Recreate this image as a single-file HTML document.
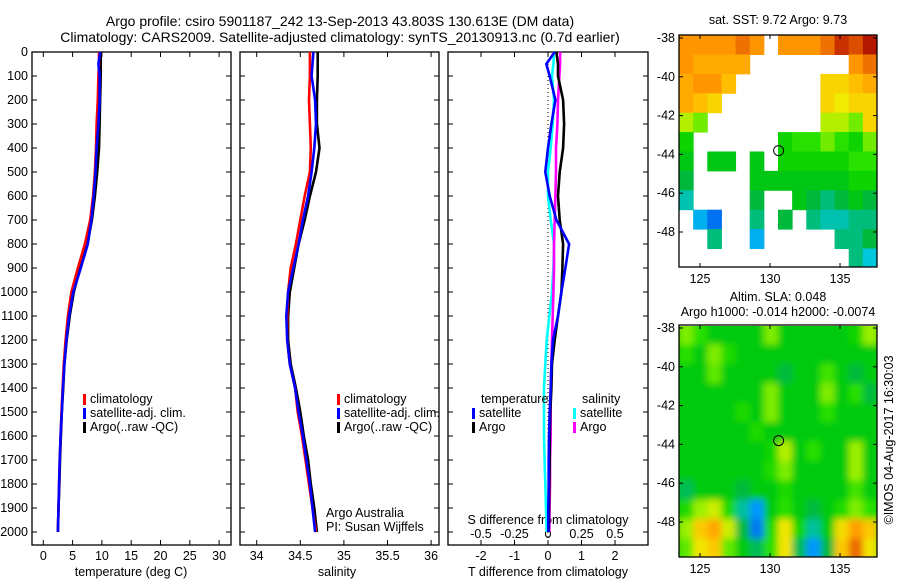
<!DOCTYPE html>
<html><head><meta charset="utf-8"><style>
html,body{margin:0;padding:0;background:#fff;}
svg{display:block;font-family:"Liberation Sans",sans-serif;font-size:12.5px;}
</style></head><body>
<svg id="fig" width="900" height="580" viewBox="0 0 900 580" xmlns="http://www.w3.org/2000/svg">
<defs>
<clipPath id="clip1"><rect x="679" y="35" width="198" height="232"/></clipPath>
<clipPath id="clip2"><rect x="679" y="326" width="198" height="231"/></clipPath>
<filter id="blur" x="-5%" y="-5%" width="110%" height="110%"><feGaussianBlur stdDeviation="3.5" edgeMode="duplicate"/></filter>
</defs>
<text x="340" y="26" text-anchor="middle" style="font-size:14px">Argo profile: csiro 5901187_242 13-Sep-2013 43.803S 130.613E (DM data)</text>
<text x="340" y="42" text-anchor="middle" style="font-size:14px">Climatology: CARS2009. Satellite-adjusted climatology: synTS_20130913.nc (0.7d earlier)</text>
<g id="p1"></g>
<g id="p2"></g>
<g id="p3"></g>
<g id="m1"></g>
<g id="m2"></g>
<text x="0" y="0" transform="translate(893,440) rotate(-90)" text-anchor="middle">©IMOS 04-Aug-2017 16:30:03</text>
</svg>
<script>
// ---------- data ----------
const depths = [0,50,100,200,300,400,500,600,700,800,900,1000,1100,1200,1300,1400,1500,1600,1700,1800,1900,2000];
const tempClim = [9.5,9.5,9.4,9.3,9.1,9.0,8.8,8.5,8.0,7.1,5.9,4.8,4.2,3.8,3.5,3.3,3.1,2.95,2.8,2.7,2.6,2.5];
const tempSat  = [9.7,9.4,9.6,9.6,9.4,9.1,8.9,8.6,8.2,7.6,6.4,5.1,4.4,3.95,3.6,3.35,3.15,2.95,2.8,2.7,2.6,2.5];
const tempArgo = [9.8,9.8,9.8,9.7,9.6,9.5,9.2,8.8,8.3,7.5,6.3,5.2,4.5,4.0,3.6,3.4,3.15,3.0,2.85,2.75,2.6,2.5];
const salClim = [34.61,34.61,34.61,34.60,34.61,34.62,34.61,34.55,34.50,34.45,34.39,34.36,34.35,34.35,34.38,34.44,34.47,34.52,34.56,34.60,34.64,34.68];
const salSat  = [34.65,34.64,34.63,34.67,34.68,34.66,34.63,34.59,34.53,34.48,34.42,34.36,34.34,34.35,34.38,34.44,34.48,34.53,34.57,34.61,34.64,34.67];
const salArgo = [34.70,34.70,34.70,34.69,34.69,34.72,34.68,34.61,34.55,34.48,34.43,34.38,34.36,34.36,34.39,34.45,34.50,34.54,34.59,34.62,34.66,34.69];
const tDiffSat  = [0.2,-0.05,0.05,0.22,0.1,0.0,-0.08,0.05,0.25,0.63,0.52,0.4,0.3,0.15,0.1,0.08,0.05,0.03,0.02,0.02,0.01,0.01];
const tDiffArgo = [0.25,0.3,0.3,0.45,0.48,0.45,0.35,0.3,0.35,0.45,0.43,0.4,0.3,0.2,0.12,0.1,0.07,0.05,0.05,0.04,0.03,0.02];
const sDiffSat  = [0.045,0.04,0.03,0.045,0.035,0.02,0.0,0.0,0.02,0.045,0.04,0.03,0.01,-0.01,-0.02,-0.03,-0.03,-0.03,-0.025,-0.02,-0.015,-0.01];
const sDiffArgo = [0.09,0.09,0.085,0.075,0.07,0.06,0.06,0.055,0.05,0.045,0.045,0.04,0.035,0.03,0.025,0.02,0.02,0.02,0.015,0.015,0.012,0.01];
const depthTicks = [0,100,200,300,400,500,600,700,800,900,1000,1100,1200,1300,1400,1500,1600,1700,1800,1900,2000];
const tempTicks = [0,5,10,15,20,25,30];
const salTicks = ["34","34.5","35","35.5","36"];
const tDiffTicks = [-2,-1,0,1,2];
const sDiffTicks = ["-0.5","-0.25","0","0.25","0.5"];
// SST grid rows lat -38..-50 (1 deg), cols lon 123.5.. (14 cols); -1 = no data
const sstGrid = [
[14,14,14,14,14.5,14,-1,14,14,14,14.5,15.5,15,16],
[14,13.5,13.5,13.5,13.5,-1,-1,-1,-1,-1,-1,-1,14,14.5],
[13.5,14,14,13,-1,-1,-1,-1,-1,-1,12.5,12.5,13,13.5],
[13.5,13,12.5,-1,-1,-1,-1,-1,-1,-1,12.5,12,12.5,12.5],
[11.5,11,-1,-1,-1,-1,-1,-1,-1,-1,11.5,11.5,11,12.5],
[10,-1,-1,-1,-1,-1,-1,10,10.5,10.5,11,10.5,10,11],
[9.5,-1,9.5,9.5,-1,9.5,-1,10,10,10,10,10,10.5,10.5],
[9,-1,-1,-1,-1,9.5,9.5,9.5,9.5,9.5,9.5,9.5,10,10],
[8,-1,-1,-1,-1,9,-1,-1,9.5,9,8.5,9,9.5,9],
[-1,7,6,-1,-1,8.5,-1,9,-1,8.5,8,8,8.5,8.5],
[-1,-1,8.5,-1,-1,7,-1,-1,-1,-1,-1,8.5,8.5,9],
[-1,-1,-1,-1,-1,-1,-1,-1,-1,-1,-1,-1,8.5,7.5]];
const slaGrid = [
[0.07,0.04,0,0,0,0,0.07,0,0,0,0,0,0.02,0.08],
[0.04,0,0.07,0.03,0,0,0,0,0,0,0,0,0,0],
[0,0,0.06,0,0,0,0,-0.03,0,0,0.05,0,-0.03,0],
[0,0,0,0,0,0,0.07,0,0,0,0.07,0,0.04,-0.03],
[0,0,0,0,0.03,0,0.07,0,0,0,0.04,0,0,0],
[0,0,0,0,0,0.03,0,0,0,0,0,0,0,0],
[0,0,0,0,0,0,0.02,0.09,0,0.04,0,0,0.08,0],
[0,0,0,0,0,0,0.03,0.07,0,0,0,0,0.08,0],
[-0.04,0,0,0,-0.03,0,0,0.03,0,0,0,0,0.05,0],
[0.03,0.08,0.1,0.03,-0.07,-0.15,0,0.04,0,-0.03,0,0.03,0.07,0.04],
[0.08,0.15,0.19,0.1,-0.03,-0.17,0.03,0.12,0.02,-0.07,0,0.13,0.2,0.15],
[0.06,0.12,0.15,0.06,0,-0.04,0.04,0.12,-0.04,-0.15,-0.03,0.15,0.24,0.12]];
const latTicks = [-38,-40,-42,-44,-46,-48];
const lonTicks = [125,130,135];
const argoLon = 130.613, argoLat = -43.803;

// ---------- helpers ----------
const NS="http://www.w3.org/2000/svg";
function mk(parent,tag,attrs,txt){const e=document.createElementNS(NS,tag);for(const k in attrs)e.setAttribute(k,attrs[k]);if(txt!==undefined)e.textContent=txt;parent.appendChild(e);return e;}
const yD = d => 52 + d*0.24;
const PT=52, PB=545;

function panel(g,x0,x1){
  const r=mk(g,'rect',{x:x0,y:PT,width:x1-x0,height:PB-PT,fill:'none',stroke:'#000','stroke-width':1.3});
  
  
  depthTicks.forEach(d=>{
    mk(g,'line',{x1:x0,x2:x0+5,y1:yD(d),y2:yD(d),stroke:'#000'});
    mk(g,'line',{x1:x1-5,x2:x1,y1:yD(d),y2:yD(d),stroke:'#000'});
  });
}
function xticks(g,xs,labels,y,top){
  xs.forEach((x,i)=>{
    mk(g,'line',{x1:x,x2:x,y1:PB,y2:PB-5,stroke:'#000'});
    if(top) mk(g,'line',{x1:x,x2:x,y1:PT,y2:PT+5,stroke:'#000'});
    const t=mk(g,'text',{x:x,y:y,'text-anchor':'middle'},labels[i]);
    
    
  });
}
function line(g,xf,vals,color,name){
  const pts=vals.map((v,i)=>xf(v).toFixed(1)+','+yD(depths[i]).toFixed(1)).join(' ');
  const p=mk(g,'polyline',{points:pts,fill:'none',stroke:color,'stroke-width':2.6});
  
  
}
function legend(g,x,y,items){
  items.forEach((it,i)=>{
    mk(g,'rect',{x:x,y:y+i*14-9,width:3,height:11,fill:it[0]});
    const t=mk(g,'text',{x:x+7,y:y+i*14},it[1]);
    
    
  });
}

// ---------- panel 1 ----------
const p1=document.getElementById('p1');
const xT = v => 43.3 + v*5.86;
panel(p1,32,231);
depthTicks.forEach(d=>{const t=mk(p1,'text',{x:28,y:yD(d)+4,'text-anchor':'end'},d);
  
  });
xticks(p1,tempTicks.map(xT),tempTicks,560,true);
mk(p1,'text',{x:131,y:576,'text-anchor':'middle'},'temperature (deg C)');
line(p1,xT,tempArgo,'#000','argo-temperature-line');
line(p1,xT,tempClim,'#f00','climatology-temperature-line');
line(p1,xT,tempSat,'#00f','satellite-temperature-line');
legend(p1,83,403,[['#f00','climatology'],['#00f','satellite-adj. clim.'],['#000','Argo(..raw -QC)']]);

// ---------- panel 2 ----------
const p2=document.getElementById('p2');
const xS = v => 256.7 + (v-34)*87.2;
panel(p2,240,439);
xticks(p2,salTicks.map(s=>xS(parseFloat(s))),salTicks,560,true);
mk(p2,'text',{x:337,y:576,'text-anchor':'middle'},'salinity');
line(p2,xS,salArgo,'#000','argo-salinity-line');
line(p2,xS,salClim,'#f00','climatology-salinity-line');
line(p2,xS,salSat,'#00f','satellite-salinity-line');
legend(p2,337,403,[['#f00','climatology'],['#00f','satellite-adj. clim.'],['#000','Argo(..raw -QC)']]);
mk(p2,'text',{x:326,y:517},'Argo Australia');
mk(p2,'text',{x:326,y:531},'PI: Susan Wijffels');

// ---------- panel 3 ----------
const p3=document.getElementById('p3');
const xTd = v => 548 + v*33.5;
const xSd = v => 548 + v*134;
panel(p3,448,648);
xticks(p3,tDiffTicks.map(xTd),tDiffTicks,560,true);
sDiffTicks.forEach(s=>{const t=mk(p3,'text',{x:xSd(parseFloat(s)),y:538,'text-anchor':'middle'},s);
  
  });
mk(p3,'text',{x:548,y:524,'text-anchor':'middle'},'S difference from climatology');
mk(p3,'text',{x:548,y:576,'text-anchor':'middle'},'T difference from climatology');
mk(p3,'line',{x1:xTd(0),x2:xTd(0),y1:PT,y2:PB,stroke:'#000','stroke-dasharray':'1,3'});
line(p3,xSd,sDiffSat,'#0ff','salinity-satellite-diff-line');
line(p3,xSd,sDiffArgo,'#f0f','salinity-argo-diff-line');
line(p3,xTd,tDiffArgo,'#000','temperature-argo-diff-line');
line(p3,xTd,tDiffSat,'#00f','temperature-satellite-diff-line');
mk(p3,'text',{x:481,y:403},'temperature');
mk(p3,'text',{x:582,y:403},'salinity');
legend(p3,472,417,[['#00f','satellite'],['#000','Argo']]);
legend(p3,573,417,[['#0ff','satellite'],['#f0f','Argo']]);

// ---------- maps ----------
const stops=[[0,[0,0,160]],[0.1,[0,60,220]],[0.2,[0,150,255]],[0.28,[0,200,220]],[0.35,[0,190,140]],[0.4,[0,185,60]],[0.46,[0,205,0]],[0.52,[40,225,0]],[0.58,[150,240,0]],[0.64,[240,235,0]],[0.72,[255,190,0]],[0.8,[255,150,0]],[0.9,[210,60,0]],[1,[160,0,0]]];
function cmap(t){t=Math.max(0,Math.min(1,t));for(let i=1;i<stops.length;i++){if(t<=stops[i][0]){const a=stops[i-1],b=stops[i],f=(t-a[0])/(b[0]-a[0]);const c=a[1].map((v,k)=>Math.round(v+(b[1][k]-v)*f));return 'rgb('+c.join(',')+')';}}return 'rgb(160,0,0)';}
function map(g,top,bottom,grid,vmin,vmax,clip,blur,titles){
  const L=679,R=877;
  const lon0=123.5,lon1=137.64;
  const xL=lon=>L+(lon-lon0)*(R-L)/(lon1-lon0);
  const yL=lat=>(top+3)+(-38-lat)*19.4;
  const cg=mk(g,'g',{'clip-path':'url(#'+clip+')'});
  const inner=mk(cg,'g',blur?{filter:'url(#blur)'}:{});
  if(blur) mk(inner,'rect',{x:L-10,y:top-10,width:R-L+20,height:bottom-top+20,fill:cmap((0-vmin)/(vmax-vmin))});
  const cw=(lon1-lon0)/14;
  grid.forEach((row,r)=>row.forEach((v,c)=>{
    if(v===-1)return;
    const x=xL(lon0+c*cw), y=yL(-38+0.15-r)-(r===0?5:0);
    const cell=mk(inner,'rect',{x:x,y:y,width:xL(lon0+(c+1)*cw)-x+0.5,height:19.4+(r===0?5.5:0.5)+(r===grid.length-1?10:0),fill:cmap((v-vmin)/(vmax-vmin))});
    
    
  }));
  const f=mk(g,'rect',{x:L,y:top,width:R-L,height:bottom-top,fill:'none',stroke:'#000','stroke-width':1.3});
  
  
  latTicks.forEach(lat=>{const y=yL(lat);
    mk(g,'line',{x1:L,x2:L+4,y1:y,y2:y,stroke:'#000'});mk(g,'line',{x1:R-4,x2:R,y1:y,y2:y,stroke:'#000'});
    const t=mk(g,'text',{x:675,y:y+4,'text-anchor':'end'},lat);
    
    });
  lonTicks.forEach(lon=>{const x=xL(lon);
    mk(g,'line',{x1:x,x2:x,y1:top,y2:top+4,stroke:'#000'});mk(g,'line',{x1:x,x2:x,y1:bottom-4,y2:bottom,stroke:'#000'});
    const t=mk(g,'text',{x:x,y:bottom+16,'text-anchor':'middle'},lon);
    
    });
  const m=mk(g,'circle',{cx:xL(argoLon),cy:yL(argoLat),r:5,fill:'none',stroke:'#000','stroke-width':1});
  
  
  titles.forEach((tt,i)=>{const t=mk(g,'text',{x:778,y:tt[1],'text-anchor':'middle'},tt[0]);
    
    });
}
map(document.getElementById('m1'),35,267,sstGrid,4,16.5,'clip1',false,[['sat. SST: 9.72 Argo: 9.73',24]]);
map(document.getElementById('m2'),325,557,slaGrid,-0.27,0.33,'clip2',true,[['Altim. SLA: 0.048',301],['Argo h1000: -0.014 h2000: -0.0074',316]]);
</script>
</body></html>
